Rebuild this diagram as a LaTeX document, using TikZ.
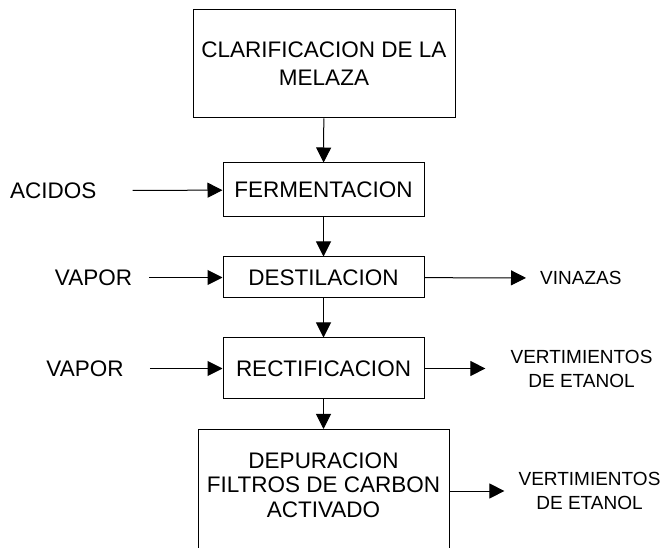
\documentclass[tikz,border=0pt]{standalone}
\usepackage{fontspec}
\setmainfont{Liberation Sans}
\usetikzlibrary{arrows.meta}
\tikzset{
  box/.style={draw=black, line width=1pt, rectangle, inner sep=0pt, align=center,
    font=\fontsize{22.5}{27}\selectfont},
  lbl/.style={inner sep=0pt, font=\fontsize{22.5}{27}\selectfont},
  rlbl/.style={inner sep=0pt, align=center, font=\fontsize{19}{24}\selectfont},
  arr/.style={draw=black, line width=1pt, -{Triangle[length=15pt,width=15pt]}}
}
\begin{document}
\begin{tikzpicture}[x=1pt,y=-1pt]
\useasboundingbox (0,0) rectangle (665,548);
\clip (0,0) rectangle (665,548);
\fill[white] (0,0) rectangle (665,548);
% process boxes
\node[box, minimum width=262pt, minimum height=108pt, font=\fontsize{22.5}{28}\selectfont] (clar) at (324,64) {CLARIFICACION DE LA\\MELAZA};
\node[box, minimum width=201pt, minimum height=54pt] (ferm) at (323.5,190) {FERMENTACION};
\node[box, minimum width=201pt, minimum height=41pt] (destil) at (323.5,277.5) {DESTILACION};
\node[box, minimum width=201pt, minimum height=61pt] (rectif) at (323.5,368.5) {RECTIFICACION};
\node[box, minimum width=251pt, minimum height=141pt, anchor=north] (depur) at (323.5,429) {};
\node[lbl, align=center, font=\fontsize{22.5}{24.5}\selectfont] (depurtxt) at (323.5,485) {DEPURACION\\FILTROS DE CARBON\\ACTIVADO};
% inputs
\node[lbl, anchor=west] (acidos) at (10,190.5) {ACIDOS};
\node[lbl] (vapor1) at (93.5,277.5) {VAPOR};
\node[lbl] (vapor2) at (85,368.5) {VAPOR};
% outputs
\node[rlbl, anchor=west] (vinazas) at (540,278) {VINAZAS};
\node[rlbl] (vert1) at (581.5,368.5) {VERTIMIENTOS\\DE ETANOL};
\node[rlbl] (vert2) at (589.5,491) {VERTIMIENTOS\\DE ETANOL};
% main flow
\draw[arr] (clar) -- (ferm);
\draw[arr] (ferm) -- (destil);
\draw[arr] (destil) -- (rectif);
\draw[arr] (rectif.south) -- (rectif.south |- depur.north);
% input arrows
\draw[arr, shorten <=36pt] (acidos) -- (ferm);
\draw[arr, shorten <=17pt] (vapor1) -- (destil);
\draw[arr, shorten <=26pt] (vapor2) -- (rectif);
% output arrows
\draw[arr, shorten >=14pt] (destil) -- (vinazas);
\draw[arr, shorten >=25pt] (rectif) -- (vert1);
\draw[arr, shorten >=14pt] (depur.east |- vert2) -- (vert2);
\end{tikzpicture}
\end{document}
